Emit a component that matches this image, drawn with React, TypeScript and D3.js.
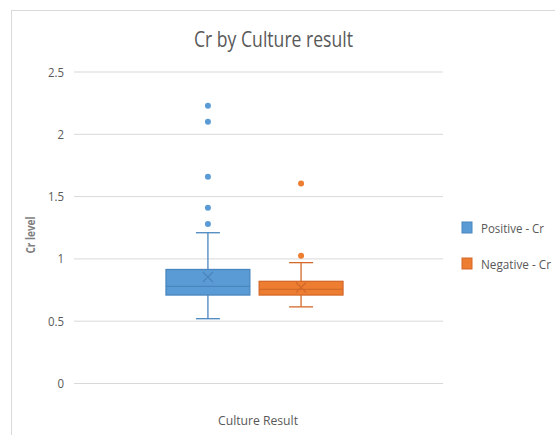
import * as d3 from 'd3';
import React, { useEffect, useRef } from 'react';

// categories / series
const categories = ['Culture Result'];
const seriesNames = ['Positive - Cr', 'Negative - Cr'];
const seriesColors = ['#5B9BD5', '#ED7D31'];
const seriesStroke = ['#4A86BE', '#D4692A'];
const legendWidths = [63, 70]; // measured text widths in the reference

// box stats: [min whisker, q1, median, q3, max whisker, mean]
const positiveStats = [0.52, 0.71, 0.78, 0.915, 1.21, 0.855];
const negativeStats = [0.615, 0.71, 0.755, 0.82, 0.97, 0.77];
const positiveOutliers = [2.23, 2.1, 1.66, 1.41, 1.28];
const negativeOutliers = [1.605, 1.025];

const yTicks = [0, 0.5, 1, 1.5, 2, 2.5];

const FONT = "'Open Sans', sans-serif";

const App = () => {
    const svgRef = useRef<SVGSVGElement>(null);

    useEffect(() => {
        const width = 555;
        const height = 435;
        const plot = { left: 74, right: 443, top: 72, bottom: 383.5 };

        const svg = d3.select(svgRef.current);
        svg.selectAll('*').remove();

        // chart frame
        svg.append('rect')
            .attr('x', 11.5)
            .attr('y', 10.5)
            .attr('width', 600)
            .attr('height', 500)
            .attr('fill', '#fff')
            .attr('stroke', '#d9d9d9');

        const yScale = d3.scaleLinear()
            .domain([0, 2.5])
            .range([plot.bottom, plot.top]);

        const x0 = d3.scaleBand()
            .domain(categories)
            .range([plot.left, plot.right - 8]);

        const x1 = d3.scaleBand()
            .domain(seriesNames)
            .range([x0(categories[0])! + 92, x0(categories[0])! + x0.bandwidth() - 92])
            .paddingInner(0.1);

        // gridlines
        svg.append('g')
            .selectAll('line')
            .data(yTicks)
            .enter()
            .append('line')
            .attr('x1', plot.left)
            .attr('x2', plot.right)
            .attr('y1', d => yScale(d))
            .attr('y2', d => yScale(d))
            .attr('stroke', '#d9d9d9')
            .attr('stroke-width', 1);

        // y tick labels
        svg.append('g')
            .selectAll('text')
            .data(yTicks)
            .enter()
            .append('text')
            .attr('x', 64)
            .attr('y', d => yScale(d))
            .attr('dy', '0.35em')
            .attr('text-anchor', 'end')
            .attr('font-family', FONT)
            .attr('font-size', 13)
            .attr('fill', '#595959')
            .attr('transform', d => `translate(${64 * 0.12},0) scale(0.88,1)`)
            .text(d => String(d));

        const boxes = [
            { name: seriesNames[0], stats: positiveStats, outliers: positiveOutliers },
            { name: seriesNames[1], stats: negativeStats, outliers: negativeOutliers },
        ];

        boxes.forEach((b, i) => {
            const [lo, q1, med, q3, hi, mean] = b.stats;
            const bx = x1(b.name)!;
            const bw = x1.bandwidth();
            const cx = bx + bw / 2;
            const g = svg.append('g');
            const stroke = seriesStroke[i];
            const capW = 12;

            // whiskers
            g.append('line')
                .attr('x1', cx).attr('x2', cx)
                .attr('y1', yScale(q3)).attr('y2', yScale(hi))
                .attr('stroke', stroke).attr('stroke-width', 1.3);
            g.append('line')
                .attr('x1', cx).attr('x2', cx)
                .attr('y1', yScale(q1)).attr('y2', yScale(lo))
                .attr('stroke', stroke).attr('stroke-width', 1.3);
            [hi, lo].forEach(v => {
                g.append('line')
                    .attr('x1', cx - capW).attr('x2', cx + capW)
                    .attr('y1', yScale(v)).attr('y2', yScale(v))
                    .attr('stroke', stroke).attr('stroke-width', 1.3);
            });

            // box
            g.append('rect')
                .attr('x', bx)
                .attr('y', yScale(q3))
                .attr('width', bw)
                .attr('height', yScale(q1) - yScale(q3))
                .attr('fill', seriesColors[i])
                .attr('stroke', stroke)
                .attr('stroke-width', 1.3);

            // median
            g.append('line')
                .attr('x1', bx).attr('x2', bx + bw)
                .attr('y1', yScale(med)).attr('y2', yScale(med))
                .attr('stroke', stroke).attr('stroke-width', 1.3);

            // mean marker (x)
            const my = yScale(mean);
            const s = 5;
            g.append('path')
                .attr('d', `M${cx - s},${my - s}L${cx + s},${my + s}M${cx - s},${my + s}L${cx + s},${my - s}`)
                .attr('stroke', stroke)
                .attr('stroke-width', 1.3)
                .attr('fill', 'none');

            // outliers
            g.selectAll('circle')
                .data(b.outliers)
                .enter()
                .append('circle')
                .attr('cx', cx)
                .attr('cy', d => yScale(d))
                .attr('r', 3)
                .attr('fill', seriesColors[i]);
        });

        // title
        svg.append('text')
            .attr('x', 273.5)
            .attr('y', 47)
            .attr('text-anchor', 'middle')
            .attr('font-family', FONT)
            .attr('font-size', 21)
            .attr('fill', '#595959')
            .attr('textLength', 159)
            .attr('lengthAdjust', 'spacingAndGlyphs')
            .text('Cr by Culture result');

        // y axis label
        svg.append('text')
            .attr('transform', `translate(35,235) rotate(-90)`)
            .attr('text-anchor', 'middle')
            .attr('font-family', FONT)
            .attr('font-size', 13)
            .attr('font-weight', 'bold')
            .attr('fill', '#7f7f7f')
            .attr('textLength', 37)
            .attr('lengthAdjust', 'spacingAndGlyphs')
            .text('Cr level');

        // x axis label
        svg.append('text')
            .attr('x', 258)
            .attr('y', 425)
            .attr('text-anchor', 'middle')
            .attr('font-family', FONT)
            .attr('font-size', 13)
            .attr('fill', '#595959')
            .attr('textLength', 80)
            .attr('lengthAdjust', 'spacingAndGlyphs')
            .text(categories[0]);

        // legend
        const legend = svg.append('g')
            .selectAll('g')
            .data(seriesNames)
            .enter()
            .append('g')
            .attr('transform', (d, i) => `translate(462,${222 + i * 36})`);
        legend.append('rect')
            .attr('width', 10)
            .attr('height', 11)
            .attr('fill', (d, i) => seriesColors[i])
            .attr('stroke', (d, i) => seriesStroke[i]);
        legend.append('text')
            .attr('x', 19)
            .attr('y', 6)
            .attr('dy', '0.35em')
            .attr('font-family', FONT)
            .attr('font-size', 13)
            .attr('fill', '#595959')
            .attr('textLength', (d, i) => legendWidths[i])
            .attr('lengthAdjust', 'spacingAndGlyphs')
            .text(d => d);

        svg.attr('width', width).attr('height', height);
    }, []);

    return <svg ref={svgRef} style={{ position: 'absolute', left: 0, top: 0 }}></svg>;
};

export default App;
